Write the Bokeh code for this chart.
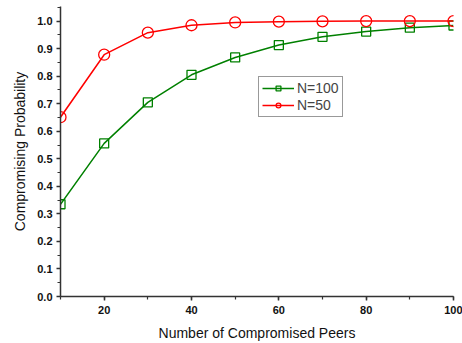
from bokeh.plotting import figure
from bokeh.models import Range1d, SingleIntervalTicker, Legend, LegendItem, PrintfTickFormatter
from bokeh.embed import file_html
from bokeh.resources import INLINE

peers = [10, 20, 30, 40, 50, 60, 70, 80, 90, 100]
prob_n100 = [0.335, 0.556, 0.705, 0.805, 0.868, 0.913, 0.943, 0.962, 0.976, 0.984]
prob_n50 = [0.651, 0.878, 0.958, 0.985, 0.995, 0.998, 0.999, 1.0, 1.0, 1.0]

FONT = "Liberation Sans"

p = figure(width=462, height=343, output_backend="svg", toolbar_location=None,
           x_range=Range1d(10, 100), y_range=Range1d(0, 1.053),
           min_border_left=60, min_border_right=9, min_border_top=6, min_border_bottom=46)
p.outline_line_color = None
p.xgrid.visible = False
p.ygrid.visible = False

g_line = p.line(peers, prob_n100, line_color="#008000", line_width=1.5)
g_mark = p.scatter(peers, prob_n100, marker="square", size=9, fill_color=None,
                   line_color="#008000", line_width=1.3)
r_line = p.line(peers, prob_n50, line_color="#ff0000", line_width=1.5)
r_mark = p.scatter(peers, prob_n50, marker="circle", size=11, fill_color=None,
                   line_color="#ff0000", line_width=1.3)

p.xaxis.ticker = SingleIntervalTicker(interval=20, num_minor_ticks=2)
p.yaxis.ticker = SingleIntervalTicker(interval=0.1, num_minor_ticks=2)
p.yaxis.formatter = PrintfTickFormatter(format="%.1f")

for ax in (p.xaxis[0], p.yaxis[0]):
    ax.axis_line_color = "#333333"
    ax.axis_line_width = 1.5
    ax.major_tick_line_color = "#333333"
    ax.minor_tick_line_color = "#333333"
    ax.major_tick_line_width = 1.5
    ax.minor_tick_line_width = 1.2
    ax.major_tick_out = 4
    ax.major_tick_in = 0
    ax.minor_tick_out = 3
    ax.minor_tick_in = 0
    ax.major_label_text_font = FONT
    ax.major_label_text_font_style = "bold"
    ax.major_label_text_font_size = "11px"
    ax.major_label_text_color = "#111111"
    ax.axis_label_text_font = FONT
    ax.axis_label_text_font_style = "normal"
    ax.axis_label_text_font_size = "14px"
    ax.axis_label_text_color = "#111111"

p.xaxis.axis_label = "Number of Compromised Peers"
p.yaxis.axis_label = "Compromising Probability"
p.xaxis.major_label_standoff = 5
p.xaxis.axis_label_standoff = 8
p.yaxis.major_label_standoff = 4
p.yaxis.axis_label_standoff = 6

legend = Legend(items=[LegendItem(label="N=100", renderers=[g_line, g_mark]),
                       LegendItem(label="N=50", renderers=[r_line, r_mark])],
                location=(198, 179))
legend.label_text_font = FONT
legend.label_text_font_size = "14px"
legend.label_height = 12
legend.glyph_height = 12
legend.glyph_width = 32
legend.label_standoff = 3
legend.spacing = 1
legend.padding = 3
legend.margin = 0
legend.border_line_color = "#333333"
legend.border_line_width = 1
p.add_layout(legend, "center")

open("out.html", "w").write(file_html(p, INLINE))
